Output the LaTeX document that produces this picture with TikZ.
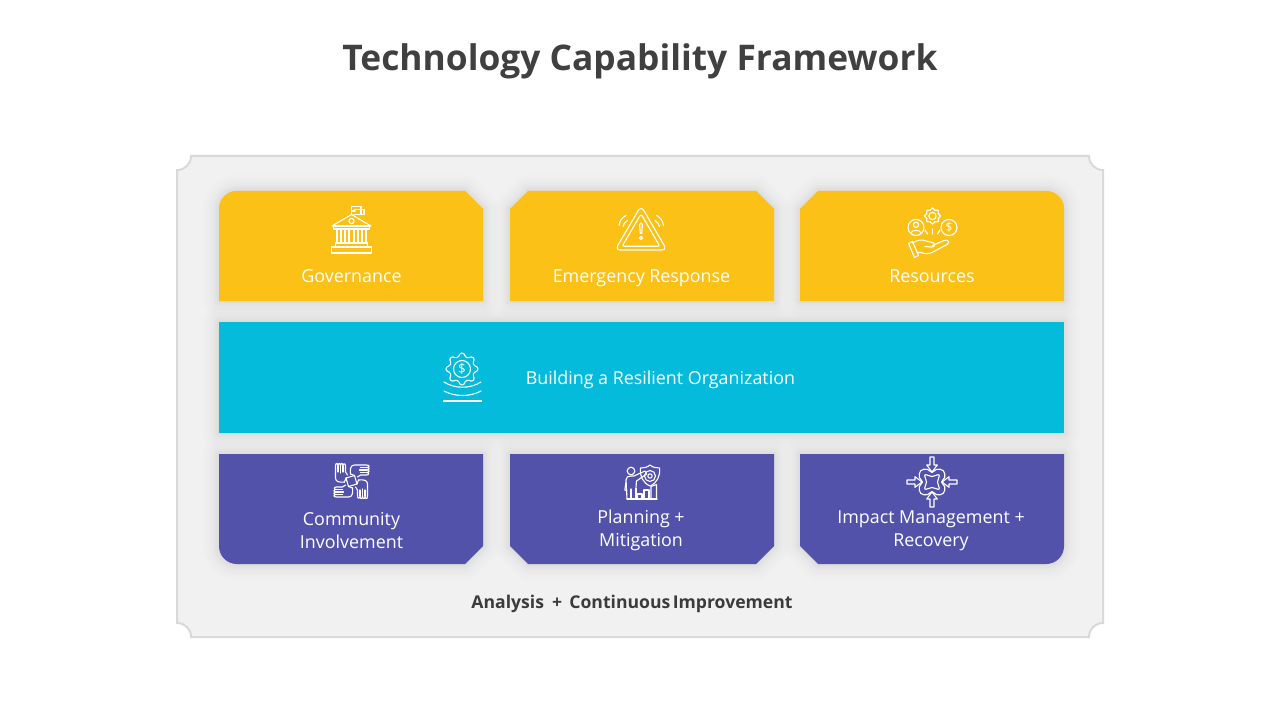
\documentclass[tikz,border=0pt]{standalone}
\usepackage{fontspec}
\setmainfont{Open Sans}
\usetikzlibrary{calc}
\definecolor{ybox}{HTML}{FBC116}
\definecolor{tbox}{HTML}{05BBDB}
\definecolor{pbox}{HTML}{5252AA}
\definecolor{framefill}{HTML}{F1F1F1}
\definecolor{frameline}{HTML}{D9D9D9}
\definecolor{titlec}{HTML}{404040}
\definecolor{capc}{HTML}{3B3B3B}
\tikzset{
  ic/.style={draw=white,line width=1.1pt*0.75,line join=round,line cap=round},
  lab/.style={text=white,anchor=base,inner sep=0pt,font=\fontsize{13.4}{17.2}\selectfont},
}
\newcommand{\softshadow}[1]{%
  \foreach \w in {32,26,20,16,12,10,8,6,4,2}{
    \draw[black,opacity=0.007,line width=\w*0.75pt,line join=round,fill=black,fill opacity=0.007] #1;
  }}
\newcommand{\geardraw}[2]{% outer, inner radius; 8 teeth
  \draw[rounded corners=0.8pt] plot[variable=\i,samples at={0,...,31}] ({\i*11.25-5.6}:{(mod(\i,4)<2)?#1:#2}) -- cycle;}
\begin{document}
\begin{tikzpicture}[x=0.75pt,y=-0.75pt]
\useasboundingbox (0,0) rectangle (1280,720);
\fill[white] (0,0) rectangle (1280,720);
% frame
\path[fill=framefill,draw=frameline,line width=1.5pt]
 (191,156) -- (1089,156)
 .. controls (1089,164) and (1095,170) .. (1103,170)
 -- (1103,623)
 .. controls (1095,623) and (1089,629) .. (1089,637)
 -- (191,637)
 .. controls (191,629) and (185,623) .. (177,623)
 -- (177,170)
 .. controls (185,170) and (191,164) .. (191,156) -- cycle;
% boxes
\def\govp{(237,191) -- (465,191) -- (483,209) -- (483,301) -- (219,301) -- (219,209) .. controls (219,199) and (227,191) .. (237,191) -- cycle}
\def\emgp{(528,191) -- (756,191) -- (774,209) -- (774,301) -- (510,301) -- (510,209) -- cycle}
\def\resp{(818,191) -- (1046,191) .. controls (1056,191) and (1064,199) .. (1064,209) -- (1064,301) -- (800,301) -- (800,209) -- cycle}
\def\midp{(219,322) -- (1064,322) -- (1064,433) -- (219,433) -- cycle}
\def\comp{(219,454) -- (483,454) -- (483,546) -- (465,564) -- (237,564) .. controls (227,564) and (219,556) .. (219,546) -- cycle}
\def\plap{(510,454) -- (774,454) -- (774,546) -- (756,564) -- (528,564) -- (510,546) -- cycle}
\def\impp{(800,454) -- (1064,454) -- (1064,546) .. controls (1064,556) and (1056,564) .. (1046,564) -- (818,564) -- (800,546) -- cycle}
\softshadow{\govp}\softshadow{\emgp}\softshadow{\resp}\softshadow{\midp}\softshadow{\comp}\softshadow{\plap}\softshadow{\impp}
\fill[ybox] \govp; \fill[ybox] \emgp; \fill[ybox] \resp;
\fill[tbox] \midp;
\fill[pbox] \comp; \fill[pbox] \plap; \fill[pbox] \impp;
% text
\node[inner sep=0pt,anchor=base,text=titlec,font=\fontsize{26.5}{32}\selectfont\bfseries] (title) at (640,71) {Technology Capability Framework};
\node[lab] (gov) at (351.5,282) {Governance};
\node[lab] (emg) at (641.5,282) {Emergency Response};
\node[lab] (res) at (932,282) {Resources};
\node[lab,anchor=base west] (mid) at (525.5,384) {Building a Resilient Organization};
\node[lab] (com1) at (351.5,525) {Community};
\node[lab] (com2) at (351.5,548) {Involvement};
\node[lab] (pla1) at (641,523) {Planning +};
\node[lab] (pla2) at (641,546) {Mitigation};
\node[lab] (imp1) at (931,523) {Impact Management +};
\node[lab] (imp2) at (931,546) {Recovery};
\node[inner sep=0pt,anchor=base,text=capc,font=\fontsize{13.2}{16}\selectfont\bfseries] (cap) at (632,608) {Analysis\hspace{0.2em} + \hspace{0.15em}Continuous\hspace{-0.12em} Improvement};
% --- governance icon
\begin{scope}[ic]
\draw (351.5,214) -- (351.5,206.5) -- (361,206.5) -- (361,214);
\draw (351.5,211) -- (355,211);
\draw (355,209.5) -- (364,209.5) -- (364,214.5) -- (354,214.5);
\draw (332,226) -- (351.5,214.5) -- (371,226) -- cycle;
\draw (351.5,221) circle[radius=2.6];
\draw (333.5,226) rectangle (369.5,229);
\draw (335.5,243) rectangle (367.5,247);
\draw (331.5,247) rectangle (371.5,253);
\foreach \x in {337,341,345,349,354,358,362,366}{\draw (\x,229.5) -- (\x,243);}
\end{scope}
% --- warning icon
\begin{scope}[ic]
\draw (638.5,210) .. controls (640,207.6) and (642,207.6) .. (643.5,210) -- (664.5,246)
  .. controls (665.8,248.6) and (664.5,250) .. (662,250) -- (620,250)
  .. controls (617.5,250) and (616.2,248.6) .. (617.5,246) -- cycle;
\draw (639.8,216) .. controls (640.5,214.8) and (641.5,214.8) .. (642.2,216) -- (658.8,244.5)
  .. controls (659.4,245.6) and (659,246.2) .. (658,246.2) -- (624,246.2)
  .. controls (623,246.2) and (622.6,245.6) .. (623.2,244.5) -- cycle;
\draw (639.6,224.5) .. controls (639.6,222.5) and (642.4,222.5) .. (642.4,224.5) -- (641.7,233.5) -- (640.3,233.5) -- cycle;
\draw (641,238) circle[radius=1.7];
\draw (619,225.5) .. controls (619.5,221) and (622,217.5) .. (626,215.5);
\draw (623,226.5) .. controls (623.5,224) and (625,222) .. (627.5,220.5);
\draw (663.5,225.5) .. controls (663,221) and (660.5,217.5) .. (656.5,215.5);
\draw (659.5,226.5) .. controls (659,224) and (657.5,222) .. (655,220.5);
\end{scope}
% --- resources icon
\begin{scope}[ic]
\begin{scope}[shift={(932.5,216)}]
\geardraw{8}{6.2}
\draw (0,0) circle[radius=3.6];
\end{scope}
\draw (916,227.5) circle[radius=8];
\draw (916,224.8) circle[radius=2.6];
\draw (911,233) .. controls (911.5,229.5) and (920.5,229.5) .. (921,233);
\draw (949,227.5) circle[radius=8];
\node[inner sep=0pt,text=white,font=\fontsize{9}{9}\selectfont] (dollar1) at (949,227.5) {\$};
\draw (932.5,229) -- (932.5,234);
\draw (925,230) -- (927.5,234);
\draw (940,230) -- (937.5,234);
\draw (908.5,243.5) -- (912.5,241.5) -- (918.5,255.5) -- (914.5,257.5) -- cycle;
\draw (912.5,243) .. controls (918,239.5) and (922,239.5) .. (926,241) -- (932.5,242.5)
   .. controls (936,243.5) and (935,247.5) .. (931,247) -- (925,246.5);
\draw (932.5,245.5) -- (944,240.5) .. controls (948,239) and (950.5,242.5) .. (947,244.5)
   -- (932,252.5) .. controls (928,254.5) and (924,253.5) .. (921,252.5) -- (917.5,252.5);
\end{scope}
% --- central icon
\begin{scope}[ic]
\begin{scope}[shift={(462,369)}]
\geardraw{16}{12.5}
\draw (0,0) circle[radius=8.5];
\end{scope}
\node[inner sep=0pt,text=white,font=\fontsize{10}{10}\selectfont] (dollar2) at (462,369) {\$};
\draw (444,382) .. controls (455,389) and (470,389) .. (481,382);
\draw (444,391) .. controls (455,397) and (470,397) .. (481,391);
\draw (443.5,401) -- (481.5,401);
\end{scope}
% --- community hands icon
\begin{scope}[ic,shift={(351.5,481)}]
\draw (-5.5,-3) -- (3,-5.5) -- (5.5,3) -- (-3,5.5) -- cycle;
\foreach \a in {0,90,180,270}{
 \begin{scope}[rotate=\a]
 \draw (-7,1) .. controls (-12,1.5) and (-16,1) .. (-16,-3) -- (-16,-15) .. controls (-16,-18.5) and (-13.5,-18.5) .. (-13.5,-15)
    .. controls (-13.5,-18.5) and (-11,-18.5) .. (-11,-15)
    .. controls (-11,-18.5) and (-8.5,-18.5) .. (-8.5,-15)
    .. controls (-8.5,-18) and (-6,-18) .. (-6,-15) -- (-6,-9) -- (-4,-6);
 \draw (-13.5,-15) -- (-13.5,-9);
 \draw (-11,-15) -- (-11,-8);
 \draw (-8.5,-15) -- (-8.5,-9);
 \draw (-7,1) -- (-5.5,-3);
 \end{scope}
}
\end{scope}
% --- planning icon
\begin{scope}[ic]
\draw (631,471) circle[radius=3.8];
\draw (627,499) -- (626,480) .. controls (626,477) and (628,476) .. (631,476) -- (634,476) -- (645,471) -- (646.5,474) -- (636.5,481) -- (636,487);
\draw (626,482) -- (624.8,490) -- (627,491);
\draw (631,489) -- (631,499); \draw (627,499) -- (636,499) -- (636,488);
\draw (650,465) .. controls (653,467.5) and (656,468) .. (659.5,468) .. controls (660.5,476) and (657,483) .. (650,486)
  .. controls (643,483) and (639.5,476) .. (640.5,468) .. controls (644,468) and (647,467.5) .. (650,465) -- cycle;
\draw (650,476) circle[radius=5.5];
\draw (650,476) circle[radius=2.2];
\draw (636,499) -- (657,499);
\draw (637,499) -- (637,494) -- (642,494) -- (642,499);
\draw (644,499) -- (644,490) -- (649,490) -- (649,499);
\draw (651,499) -- (651,486.5) -- (656.5,484.5) -- (656.5,499);
\end{scope}
% --- impact icon
\begin{scope}[ic,shift={(932,482)}]
\draw plot[smooth cycle,tension=0.7] coordinates {
 (90:9.5)(70:13.5)(45:16)(20:13.5)(0:9.5)(-20:13.5)(-45:16)(-70:13.5)(-90:9.5)(-110:13.5)(-135:16)(-160:13.5)(180:9.5)(160:13.5)(135:16)(110:13.5)};
\draw plot[smooth cycle,tension=0.7] coordinates {
 (90:5.5)(45:10)(0:5.5)(-45:10)(-90:5.5)(-135:10)(180:5.5)(135:10)};
\foreach \a in {0,90,180,270}{
 \begin{scope}[rotate=\a]
 \draw (-2,-25) -- (2,-25) -- (2,-17) -- (5.3,-17) -- (0,-10) -- (-5.3,-17) -- (-2,-17) -- cycle;
 \end{scope}
}
\end{scope}
\end{tikzpicture}
\end{document}
